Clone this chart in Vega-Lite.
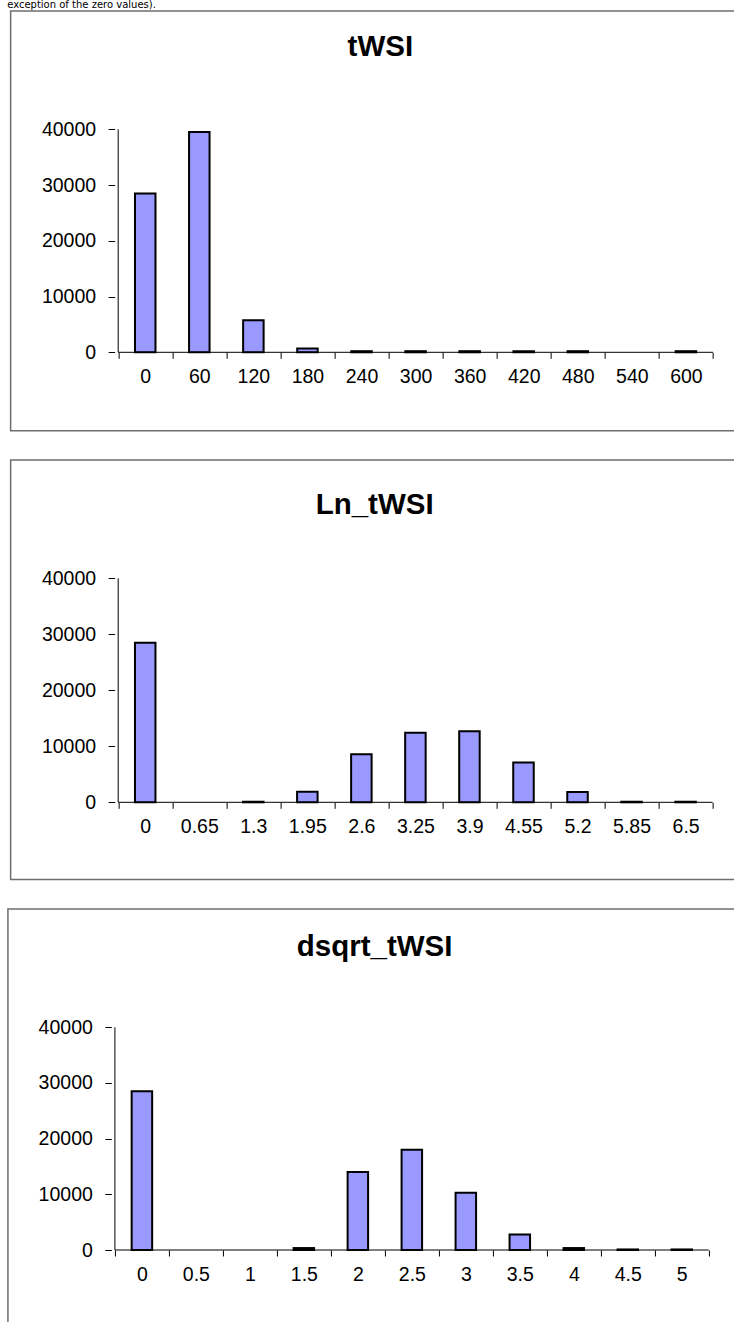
{
  "$schema": "https://vega.github.io/schema/vega-lite/v6.json",
  "background": "white",
  "padding": {"left": 6.5, "top": 0, "right": 0, "bottom": 0},
  "title": {"text": "exception of the zero values).", "anchor": "start", "font": "DejaVu Sans", "fontSize": 10, "fontWeight": "normal", "color": "black", "offset": 0},
  "spacing": 27,
  "center": true,
  "config": {
    "view": {"stroke": "#6e6e6e", "strokeWidth": 1.5},
    "axis": {"labelFont": "Liberation Sans", "labelFontSize": 19.5, "labelColor": "black", "tickColor": "black", "tickWidth": 1, "domain": false, "grid": false}
  },
  "vconcat": [
    {
      "width": 730, "height": 419.8,
      "title": {"text": "tWSI", "font": "Liberation Sans", "fontSize": 29.5, "fontWeight": "bold", "color": "black", "anchor": "middle", "baseline": "alphabetic", "offset": 0, "dy": 74, "dx": 4.7},
      "data": {"values": [
        {"bin": 0, "count": 28500}, {"bin": 60, "count": 39500}, {"bin": 120, "count": 5750}, {"bin": 180, "count": 700},
        {"bin": 240, "count": 200}, {"bin": 300, "count": 200}, {"bin": 360, "count": 200}, {"bin": 420, "count": 200},
        {"bin": 480, "count": 200}, {"bin": 540, "count": 0}, {"bin": 600, "count": 200}
      ]},
      "resolve": {"axis": {"x": "independent", "y": "independent"}},
      "layer": [
        {
          "transform": [{"filter": "datum.count > 0"}],
          "mark": {"type": "bar", "width": 20.5, "fill": "#9999FF", "stroke": "black", "strokeWidth": 2},
          "encoding": {
            "x": {"field": "bin", "type": "quantitative", "scale": {"domain": [-143.83, 655.15], "nice": false, "zero": false},
              "axis": {"orient": "bottom", "offset": -78.5, "values": [-30, 30, 90, 150, 210, 270, 330, 390, 450, 510, 570, 630], "labels": false, "tickSize": 6, "title": null}},
            "y": {"field": "count", "type": "quantitative", "scale": {"domain": [-14080, 61220], "nice": false, "zero": false},
              "axis": {"orient": "left", "offset": -104, "values": [0, 10000, 20000, 30000, 40000], "format": "d", "tickSize": 6.5, "labelPadding": 12.5, "title": null}}
          }
        },
        {
          "data": {"values": [{}]},
          "mark": {"type": "rule", "color": "black", "strokeWidth": 1},
          "encoding": {
            "x": {"datum": -30, "type": "quantitative", "axis": {"orient": "bottom", "offset": -78.5, "values": [0, 60, 120, 180, 240, 300, 360, 420, 480, 540, 600], "labelExpr": "datum.value + ''", "ticks": false, "labelPadding": 15, "labelFlush": false, "labelOverlap": false, "title": null}},
            "x2": {"datum": 630},
            "y": {"datum": 0, "type": "quantitative", "axis": null}
          }
        },
        {
          "data": {"values": [{}]},
          "mark": {"type": "rule", "color": "black", "strokeWidth": 1},
          "encoding": {
            "x": {"datum": -30, "type": "quantitative", "axis": null},
            "y": {"datum": 0, "type": "quantitative", "axis": null},
            "y2": {"datum": 40000}
          }
        }
      ]
    },
    {
      "width": 730, "height": 419.5,
      "title": {"text": "Ln_tWSI", "font": "Liberation Sans", "fontSize": 29.5, "fontWeight": "bold", "color": "black", "anchor": "middle", "baseline": "alphabetic", "offset": 0, "dy": 83, "dx": -1},
      "data": {"values": [
        {"bin": 0, "count": 28500}, {"bin": 0.65, "count": 0}, {"bin": 1.3, "count": 100}, {"bin": 1.95, "count": 1900},
        {"bin": 2.6, "count": 8600}, {"bin": 3.25, "count": 12400}, {"bin": 3.9, "count": 12700}, {"bin": 4.55, "count": 7100},
        {"bin": 5.2, "count": 1850}, {"bin": 5.85, "count": 100}, {"bin": 6.5, "count": 100}
      ]},
      "resolve": {"axis": {"x": "independent", "y": "independent"}},
      "layer": [
        {
          "transform": [{"filter": "datum.count > 0"}],
          "mark": {"type": "bar", "width": 20.5, "fill": "#9999FF", "stroke": "black", "strokeWidth": 2},
          "encoding": {
            "x": {"field": "bin", "type": "quantitative", "scale": {"domain": [-1.5588, 7.1018], "nice": false, "zero": false},
              "axis": {"orient": "bottom", "offset": -77.2, "values": [-0.325, 0.325, 0.975, 1.625, 2.275, 2.925, 3.575, 4.225, 4.875, 5.525, 6.175, 6.825], "labels": false, "tickSize": 6, "title": null}},
            "y": {"field": "count", "type": "quantitative", "scale": {"domain": [-13786, 61125], "nice": false, "zero": false},
              "axis": {"orient": "left", "offset": -104, "values": [0, 10000, 20000, 30000, 40000], "format": "d", "tickSize": 6.5, "labelPadding": 12.5, "title": null}}
          }
        },
        {
          "data": {"values": [{}]},
          "mark": {"type": "rule", "color": "black", "strokeWidth": 1},
          "encoding": {
            "x": {"datum": -0.325, "type": "quantitative", "axis": {"orient": "bottom", "offset": -77.2, "values": [0, 0.65, 1.3, 1.95, 2.6, 3.25, 3.9, 4.55, 5.2, 5.85, 6.5], "labelExpr": "datum.value + ''", "ticks": false, "labelPadding": 15, "labelFlush": false, "labelOverlap": false, "title": null}},
            "x2": {"datum": 6.825},
            "y": {"datum": 0, "type": "quantitative", "axis": null}
          }
        },
        {
          "data": {"values": [{}]},
          "mark": {"type": "rule", "color": "black", "strokeWidth": 1},
          "encoding": {
            "x": {"datum": -0.325, "type": "quantitative", "axis": null},
            "y": {"datum": 0, "type": "quantitative", "axis": null},
            "y2": {"datum": 40000}
          }
        }
      ]
    },
    {
      "width": 735.4, "height": 415,
      "title": {"text": "dsqrt_tWSI", "font": "Liberation Sans", "fontSize": 29.5, "fontWeight": "bold", "color": "black", "anchor": "middle", "baseline": "alphabetic", "offset": 0, "dy": 76.7, "dx": -1},
      "data": {"values": [
        {"bin": 0, "count": 28500}, {"bin": 0.5, "count": 0}, {"bin": 1, "count": 0}, {"bin": 1.5, "count": 350},
        {"bin": 2, "count": 14000}, {"bin": 2.5, "count": 18000}, {"bin": 3, "count": 10300}, {"bin": 3.5, "count": 2800},
        {"bin": 4, "count": 350}, {"bin": 4.5, "count": 100}, {"bin": 5, "count": 100}
      ]},
      "resolve": {"axis": {"x": "independent", "y": "independent"}},
      "layer": [
        {
          "transform": [{"filter": "datum.count > 0"}],
          "mark": {"type": "bar", "width": 20.5, "fill": "#9999FF", "stroke": "black", "strokeWidth": 2},
          "encoding": {
            "x": {"field": "bin", "type": "quantitative", "scale": {"domain": [-1.1946, 5.5238], "nice": false, "zero": false},
              "axis": {"orient": "bottom", "offset": -74, "values": [-0.25, 0.25, 0.75, 1.25, 1.75, 2.25, 2.75, 3.25, 3.75, 4.25, 4.75, 5.25], "labels": false, "tickSize": 6, "title": null}},
            "y": {"field": "count", "type": "quantitative", "scale": {"domain": [-13291, 61248], "nice": false, "zero": false},
              "axis": {"orient": "left", "offset": -103.4, "values": [0, 10000, 20000, 30000, 40000], "format": "d", "tickSize": 6.5, "labelPadding": 12.5, "title": null}}
          }
        },
        {
          "data": {"values": [{}]},
          "mark": {"type": "rule", "color": "black", "strokeWidth": 1},
          "encoding": {
            "x": {"datum": -0.25, "type": "quantitative", "axis": {"orient": "bottom", "offset": -74, "values": [0, 0.5, 1, 1.5, 2, 2.5, 3, 3.5, 4, 4.5, 5], "labelExpr": "datum.value + ''", "ticks": false, "labelPadding": 15, "labelFlush": false, "labelOverlap": false, "title": null}},
            "x2": {"datum": 5.25},
            "y": {"datum": 0, "type": "quantitative", "axis": null}
          }
        },
        {
          "data": {"values": [{}]},
          "mark": {"type": "rule", "color": "black", "strokeWidth": 1},
          "encoding": {
            "x": {"datum": -0.25, "type": "quantitative", "axis": null},
            "y": {"datum": 0, "type": "quantitative", "axis": null},
            "y2": {"datum": 40000}
          }
        }
      ]
    }
  ]
}
